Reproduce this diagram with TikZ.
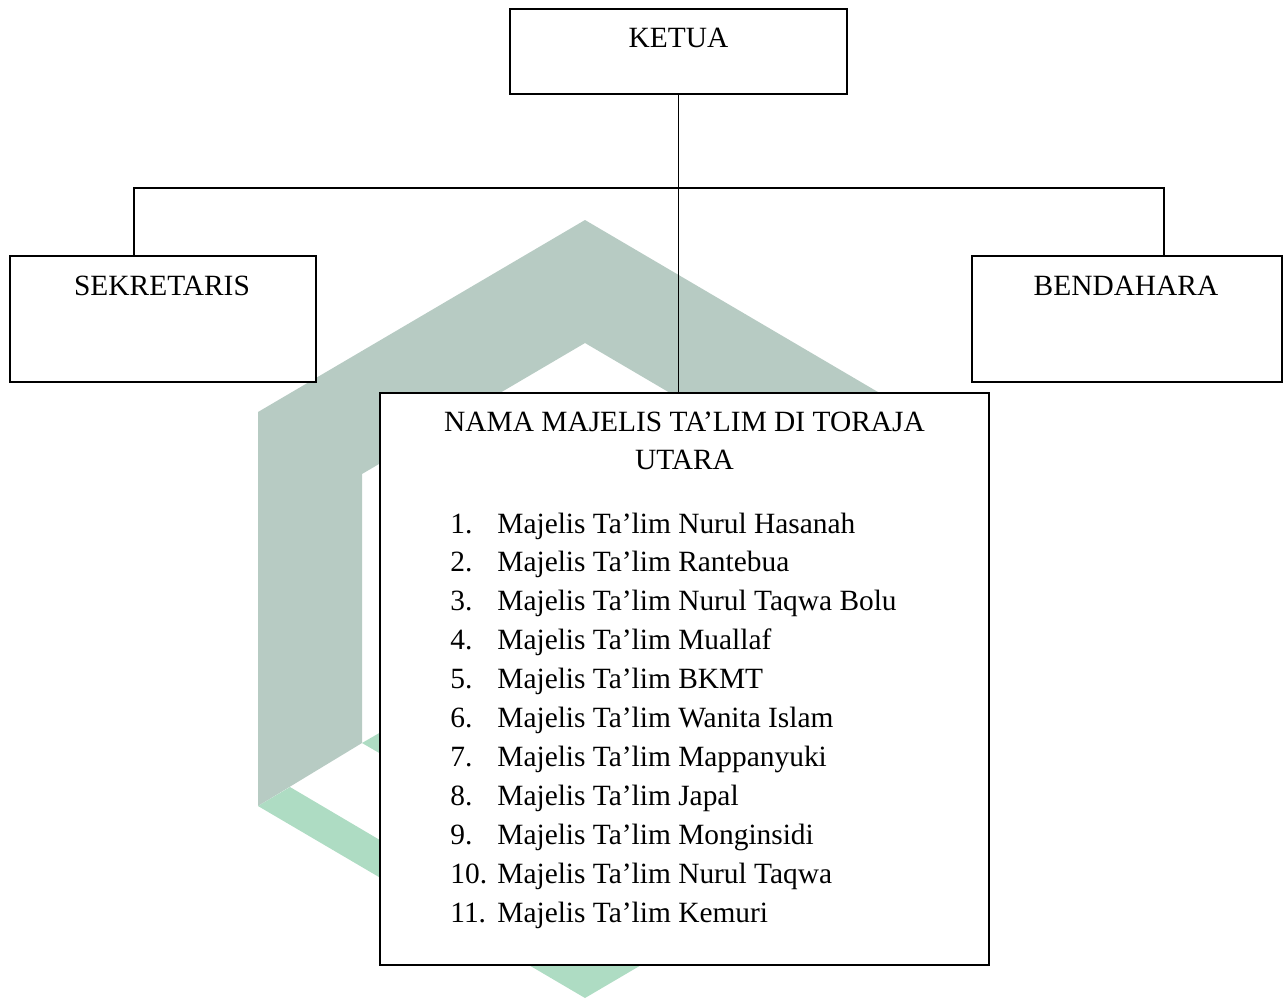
\documentclass[tikz,border=0pt]{standalone}
\usepackage{fontspec}
\setmainfont{Liberation Serif}
\usepackage{tikz}
\usetikzlibrary{positioning}
\definecolor{logogray}{HTML}{B7CBC3}
\definecolor{logogreen}{HTML}{AEDCC3}

\begin{document}
\begin{tikzpicture}[x=0.5pt, y=-0.5pt,
    box/.style={draw, line width=1pt, fill=white, inner sep=0pt},
    txt/.style={inner sep=0pt, font=\fontsize{14.7}{18}\selectfont},
    link/.style={line width=0.7pt}]
    \useasboundingbox (0,0) rectangle (1285,998);

    % Watermark - grey top part, green bottom part
    \fill[logogray] (258,412) -- (585,220) -- (912,412) -- (912,806) -- (808,743) -- (808,474)
        -- (585,343) -- (362,474) -- (362,743) -- (258,806) -- cycle;
    \fill[logogreen] (258,806) -- (585,998) -- (912,806) -- (880,787) -- (585,961) -- (290,787) -- cycle;
    \fill[logogreen] (362,743) -- (400,721) -- (400,765) -- cycle;

    % Boxes
    \node[box, minimum width=168.5pt, minimum height=42.5pt] (ketua) at (678.5,51) {};
    \node[box, minimum width=153pt, minimum height=63pt] (sekretaris) at (163,319) {};
    \node[box, minimum width=155pt, minimum height=63pt] (bendahara) at (1127,319) {};
    \node[box, minimum width=304.5pt, minimum height=286pt] (nama) at (684.5,679) {};

    % Box titles
    \node[txt, anchor=base] (ketuatext) at (678.5,47) {KETUA};
    \node[txt, anchor=base] (sekretaristext) at (162,295) {SEKRETARIS};
    \node[txt, anchor=base] (bendaharatext) at (1126,295) {BENDAHARA};
    \node[txt, anchor=base] (namatext) at (684.5,431.7) {NAMA MAJELIS TA’LIM DI TORAJA};
    \node[txt, anchor=base] (namatext2) at (684.5,469) {UTARA};

    % List of majelis
    \foreach \name [count=\i] in {Nurul Hasanah, Rantebua, Nurul Taqwa Bolu, Muallaf, BKMT,
        Wanita Islam, Mappanyuki, Japal, Monginsidi, Nurul Taqwa, Kemuri} {
        \node[txt, anchor=base west] (num\i) at ({450},{533+38.9*(\i-1)}) {\i.};
        \node[txt, anchor=base west] (item\i) at ({497},{533+38.9*(\i-1)}) {Majelis Ta’lim \name};
    }

    % Connectors
    \coordinate (barL) at (134,188);
    \coordinate (barR) at (1164,188);
    \draw[link] (ketua.south) -- (ketua.south |- nama.north);
    \draw[link] (barL |- sekretaris.north) -- (barL) -- (barR) -- (barR |- bendahara.north);
\end{tikzpicture}
\end{document}
